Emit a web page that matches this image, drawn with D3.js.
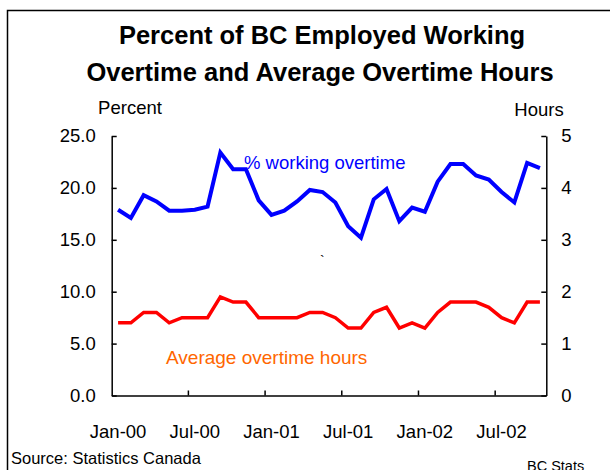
<!DOCTYPE html>
<html>
<head>
<meta charset="utf-8">
<script src="https://cdn.jsdelivr.net/npm/d3@7"></script>
<style>
  body { margin: 0; background: #fff; }
  text { font-family: "Liberation Sans", Arial, sans-serif; }
</style>
</head>
<body>
<div id="chart"></div>
<script>
var width = 610;
var height = 470;

// monthly, Jan-00 .. Oct-02
var months = [];
var monthNames = ['Jan', 'Feb', 'Mar', 'Apr', 'May', 'Jun', 'Jul', 'Aug', 'Sep', 'Oct', 'Nov', 'Dec'];
[0, 1, 2].forEach(function (yr) {
    monthNames.forEach(function (m, i) {
        if (yr === 2 && i > 9) return;
        months.push(m + '-0' + yr);
    });
});

var pctOvertime = [17.9, 17.1, 19.3, 18.7, 17.8, 17.8, 17.9, 18.2, 23.4, 21.8, 21.8, 18.8,
                   17.4, 17.8, 18.7, 19.8, 19.6, 18.6, 16.3, 15.2, 18.9, 19.9, 16.8, 18.1,
                   17.7, 20.6, 22.3, 22.3, 21.2, 20.8, 19.6, 18.6, 22.4, 21.9];
var avgHours = [1.4, 1.4, 1.6, 1.6, 1.4, 1.5, 1.5, 1.5, 1.9, 1.8, 1.8, 1.5,
                1.5, 1.5, 1.5, 1.6, 1.6, 1.5, 1.3, 1.3, 1.6, 1.7, 1.3, 1.4,
                1.3, 1.6, 1.8, 1.8, 1.8, 1.7, 1.5, 1.4, 1.8, 1.8];

var pctTicks = [0, 5, 10, 15, 20, 25];
var hourTicks = [0, 1, 2, 3, 4, 5];
var xLabels = ['Jan-00', 'Jul-00', 'Jan-01', 'Jul-01', 'Jan-02', 'Jul-02'];

var plotLeft = 111.7, plotRight = 546.3, plotTop = 136, plotBottom = 395.5;

var svg = d3.select('#chart').append('svg')
    .attr('width', width)
    .attr('height', height);

// outer frame (cut off at right and bottom like the original)
svg.append('rect')
    .attr('x', 7.5).attr('y', 10.5)
    .attr('width', 700).attr('height', 600)
    .attr('fill', 'none')
    .attr('stroke', 'black')
    .attr('stroke-width', 1.5);

svg.append('text')
    .attr('x', 322).attr('y', 44)
    .attr('text-anchor', 'middle')
    .attr('font-size', 25.5).attr('font-weight', 'bold')
    .text('Percent of BC Employed Working');
svg.append('text')
    .attr('x', 320).attr('y', 81)
    .attr('text-anchor', 'middle')
    .attr('font-size', 25.5).attr('font-weight', 'bold')
    .text('Overtime and Average Overtime Hours');

var x = d3.scaleBand().domain(months).range([plotLeft, plotRight]).padding(0);
var yL = d3.scaleLinear().domain([0, 25]).range([plotBottom, plotTop]);
var yR = d3.scaleLinear().domain([0, 5]).range([plotBottom, plotTop]);

// left axis
var gL = svg.append('g')
    .attr('transform', 'translate(' + plotLeft + ',0)')
    .call(d3.axisLeft(yL).tickValues(pctTicks).tickSize(-5).tickSizeOuter(0)
        .tickPadding(16).tickFormat(d3.format('.1f')));

// right axis
var gR = svg.append('g')
    .attr('transform', 'translate(' + plotRight + ',0)')
    .call(d3.axisRight(yR).tickValues(hourTicks).tickSize(-5).tickSizeOuter(0)
        .tickPadding(15).tickFormat(d3.format('d')));

// bottom axis: labels at category centres, ticks between every 6 months
var gB = svg.append('g')
    .attr('transform', 'translate(0,' + plotBottom + ')')
    .call(d3.axisBottom(x).tickValues(xLabels).tickSize(0).tickPadding(29));
gB.selectAll('.tick line').remove();

gB.selectAll('.sep')
    .data(months.filter(function (m, i) { return i > 0 && i % 6 === 0; }))
    .enter()
    .append('line')
        .attr('class', 'sep')
        .attr('x1', function (d) { return x(d); })
        .attr('x2', function (d) { return x(d); })
        .attr('y1', 0)
        .attr('y2', -5)
        .attr('stroke', 'black');

[gL, gR, gB].forEach(function (g) {
    g.selectAll('text').attr('font-size', 18.5).attr('font-family', '"Liberation Sans", Arial, sans-serif').attr('fill', 'black');
    g.selectAll('path, line').attr('stroke', 'black').attr('stroke-width', 1.5);
});

svg.append('text').attr('x', 130).attr('y', 114)
    .attr('text-anchor', 'middle').attr('font-size', 18.5).text('Percent');
svg.append('text').attr('x', 539).attr('y', 116)
    .attr('text-anchor', 'middle').attr('font-size', 18.5).text('Hours');

var cx = function (d, i) { return x(months[i]) + x.bandwidth() / 2; };

svg.append('path')
    .datum(pctOvertime)
    .attr('fill', 'none')
    .attr('stroke', '#0000ff')
    .attr('stroke-width', 4)
    .attr('d', d3.line().x(cx).y(function (d) { return yL(d); }));

svg.append('path')
    .datum(avgHours)
    .attr('fill', 'none')
    .attr('stroke', '#ff0000')
    .attr('stroke-width', 3.5)
    .attr('d', d3.line().x(cx).y(function (d) { return yR(d); }));

svg.append('text').attr('x', 244).attr('y', 169)
    .attr('font-size', 18.5).attr('fill', '#0000ff')
    .text('% working overtime');
svg.append('text').attr('x', 166).attr('y', 364)
    .attr('font-size', 19).attr('fill', '#ff6600')
    .text('Average overtime hours');

// stray mark in the original
svg.append('text').attr('x', 320).attr('y', 266)
    .attr('font-size', 14).text('`');

svg.append('text').attr('x', 11).attr('y', 464)
    .attr('font-size', 16.5).text('Source: Statistics Canada');
svg.append('text').attr('x', 527).attr('y', 471)
    .attr('font-size', 14.5).text('BC Stats');
</script>
</body>
</html>
